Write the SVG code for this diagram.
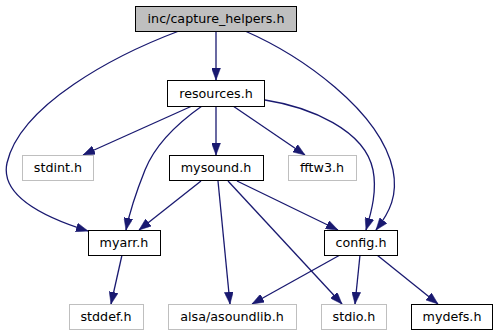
<svg xmlns="http://www.w3.org/2000/svg" width="499" height="336" viewBox="0 0 499 336">
<style>
.n rect{fill:#fff;stroke:#000;stroke-width:1}
.x rect{fill:#fff;stroke:#bfbfbf;stroke-width:1}
.root rect{fill:#bfbfbf;stroke:#000;stroke-width:1}
text{font-family:"DejaVu Sans",sans-serif;font-size:12.7px;text-anchor:middle;fill:#000}
.e path{fill:none;stroke:#191970;stroke-width:1.3;marker-end:url(#a)}
</style>
<defs>
<marker id="a" viewBox="0 0 12 9" refX="12" refY="4.5" markerWidth="12" markerHeight="9" markerUnits="userSpaceOnUse" orient="auto">
<path d="M0,0 L12,4.5 L0,9 z" fill="#191970" stroke="#191970" stroke-width="0.5"/>
</marker>
</defs>
<rect width="499" height="336" fill="#fff"/>
<g id="edges" class="e">
<path d="M216,31 L216,80"/>
<path d="M179,31 C115,55 20,105 7,163 C0,195 40,216 88,231"/>
<path d="M245,31 C300,55 380,110 393,170 C398,195 390,212 376,230"/>
<path d="M265,100 C310,107 365,130 373,170 C377,190 372,210 366,230"/>
<path d="M192,106 L83,155"/>
<path d="M202,106 C175,125 155,145 145,170 C137,190 130,210 126,230"/>
<path d="M216,106 L216,155"/>
<path d="M233,106 L305,155"/>
<path d="M201,181 L139,230"/>
<path d="M218,181 L230,304"/>
<path d="M228,181 L342,304"/>
<path d="M237,181 L338,230"/>
<path d="M122,255 L111,304"/>
<path d="M340,255 L252,304"/>
<path d="M360,255 L355,304"/>
<path d="M377,255 L438,304"/>
</g>
<g id="capture_helpers" class="root"><rect x="135.5" y="6.5" width="161" height="25"/><text x="216" y="23">inc/capture_helpers.h</text></g>
<g id="resources" class="n"><rect x="167.5" y="80.5" width="97" height="26"/><text x="216" y="98">resources.h</text></g>
<g id="stdint" class="x"><rect x="22.5" y="155.5" width="71" height="25"/><text x="58" y="172">stdint.h</text></g>
<g id="mysound" class="n"><rect x="169.5" y="155.5" width="94" height="25"/><text x="216" y="172">mysound.h</text></g>
<g id="fftw3" class="x"><rect x="288.5" y="155.5" width="68" height="25"/><text x="322" y="172">fftw3.h</text></g>
<g id="myarr" class="n"><rect x="88.5" y="230.5" width="72" height="25"/><text x="124" y="247">myarr.h</text></g>
<g id="config" class="n"><rect x="324.5" y="230.5" width="73" height="25"/><text x="361" y="247">config.h</text></g>
<g id="stddef" class="x"><rect x="69.5" y="304.5" width="74" height="25"/><text x="106" y="321">stddef.h</text></g>
<g id="asoundlib" class="x"><rect x="168.5" y="304.5" width="128" height="25"/><text x="232" y="321">alsa/asoundlib.h</text></g>
<g id="stdio" class="x"><rect x="321.5" y="304.5" width="65" height="25"/><text x="354" y="321">stdio.h</text></g>
<g id="mydefs" class="n"><rect x="411.5" y="304.5" width="81" height="25"/><text x="452" y="321">mydefs.h</text></g>
</svg>
